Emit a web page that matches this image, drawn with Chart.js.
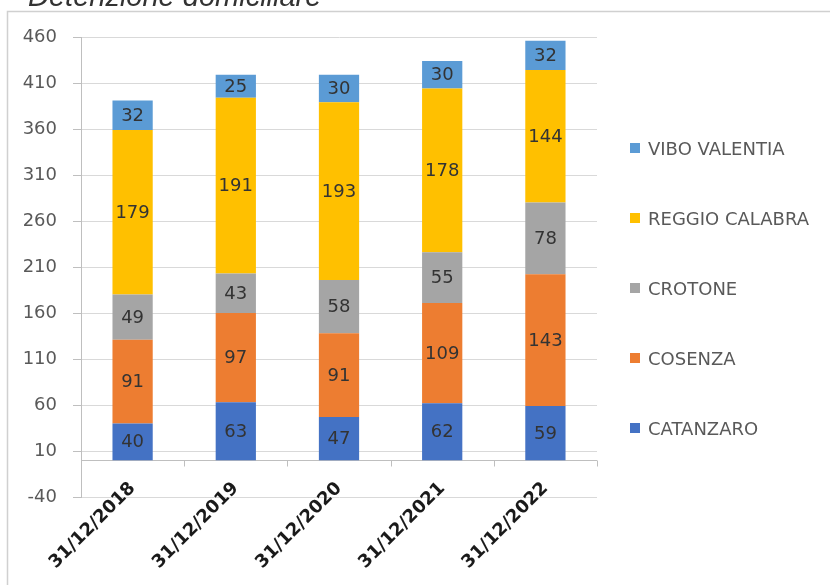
<!DOCTYPE html>
<html>
<head>
<meta charset="utf-8">
<script src="https://cdn.jsdelivr.net/npm/chart.js@4"></script>
<style>
  body { margin: 0; background: #fff; }
  #wrap { position: relative; width: 830px; height: 585px; overflow: hidden; }
  #legend { position: absolute; left: 630px; top: 113px; margin: 0; padding: 0; list-style: none;
            font-family: "DejaVu Sans", sans-serif; font-size: 18px; color: #595959; }
  #legend li { height: 70px; display: flex; align-items: center; white-space: nowrap; }
  #legend span.box { width: 10px; height: 10px; margin-right: 8px; display: inline-block; }
</style>
</head>
<body>
<div id="wrap">
  <canvas id="chartCanvas"></canvas>
  <ul id="legend"></ul>
</div>
<script>
const chartTitle = 'Detenzione domiciliare';
const categories = ['31/12/2018', '31/12/2019', '31/12/2020', '31/12/2021', '31/12/2022'];
const provinces = ['CATANZARO', 'COSENZA', 'CROTONE', 'REGGIO CALABRA', 'VIBO VALENTIA'];
const catanzaro = [40, 63, 47, 62, 59];
const cosenza = [91, 97, 91, 109, 143];
const crotone = [49, 43, 58, 55, 78];
const reggio = [179, 191, 193, 178, 144];
const vibo = [32, 25, 30, 30, 32];
const seriesValues = [catanzaro, cosenza, crotone, reggio, vibo];
const colors = ['#4472C4', '#ED7D31', '#A5A5A5', '#FFC000', '#5B9BD5'];
const yMin = -40;
const yMax = 460;
const yStep = 50;

const fontFamily = '"DejaVu Sans", sans-serif';

// frame + cut-off title
const framePlugin = {
  id: 'frame',
  beforeDraw(chart) {
    const ctx = chart.ctx;
    ctx.save();
    ctx.strokeStyle = '#d0d0d0';
    ctx.lineWidth = 1.5;
    ctx.strokeRect(7.5, 11.5, chart.width + 20, chart.height + 20);
    ctx.fillStyle = '#333';
    ctx.font = 'italic 29px "Liberation Sans", Arial, sans-serif';
    ctx.textBaseline = 'alphabetic';
    ctx.fillText(chartTitle, 28, 6);
    ctx.restore();
  }
};

// horizontal category axis crossing at 0, with rotated labels under it
const zeroAxisPlugin = {
  id: 'zeroAxis',
  beforeDatasetsDraw(chart) {
    const {ctx, chartArea, scales} = chart;
    const y0 = Math.round(scales.y.getPixelForValue(0)) + 0.5;
    ctx.save();
    ctx.strokeStyle = '#bfbfbf';
    ctx.lineWidth = 1;
    ctx.beginPath();
    ctx.moveTo(chartArea.left, y0);
    ctx.lineTo(chartArea.right, y0);
    for (let i = 0; i <= categories.length; i++) {
      const x = Math.round(scales.x.getPixelForValue(i - 0.5)) + 0.5;
      ctx.moveTo(x, y0);
      ctx.lineTo(x, y0 + 6);
    }
    ctx.stroke();

    ctx.fillStyle = '#1a1a1a';
    ctx.font = 'bold 18px ' + fontFamily;
    ctx.textAlign = 'right';
    ctx.textBaseline = 'middle';
    chart.data.labels.forEach((lab, i) => {
      const x = scales.x.getPixelForTick(i);
      ctx.save();
      ctx.translate(x, y0 + 25);
      ctx.rotate(-Math.PI / 4);
      ctx.fillText(lab, 0, 0);
      ctx.restore();
    });
    ctx.restore();
  }
};

// value labels in the middle of each segment
const valueLabelPlugin = {
  id: 'valueLabels',
  afterDatasetsDraw(chart) {
    const ctx = chart.ctx;
    ctx.save();
    ctx.font = '18px ' + fontFamily;
    ctx.fillStyle = '#333';
    ctx.textAlign = 'center';
    ctx.textBaseline = 'middle';
    chart.data.datasets.forEach((ds, di) => {
      chart.getDatasetMeta(di).data.forEach((bar, i) => {
        const p = bar.getCenterPoint();
        ctx.fillText(String(ds.data[i]), p.x, p.y + 1);
      });
    });
    ctx.restore();
  }
};

const htmlLegendPlugin = {
  id: 'htmlLegend',
  afterUpdate(chart) {
    const ul = document.getElementById('legend');
    ul.innerHTML = '';
    chart.data.datasets.slice().reverse().forEach(ds => {
      const li = document.createElement('li');
      const box = document.createElement('span');
      box.className = 'box';
      box.style.background = ds.backgroundColor;
      li.appendChild(box);
      li.appendChild(document.createTextNode(ds.label));
      ul.appendChild(li);
    });
  }
};

const data = {
  labels: categories,
  datasets: provinces.map((name, i) => ({
    label: name,
    data: seriesValues[i],
    backgroundColor: colors[i],
    borderWidth: 0,
    barPercentage: 0.39,
    categoryPercentage: 1,
  })),
};

const myChart = new Chart(document.getElementById('chartCanvas'), {
  type: 'bar',
  data: data,
  options: {
    responsive: true,
    maintainAspectRatio: false,
    animation: false,
    layout: { padding: { top: 37, right: 233, left: 0, bottom: 0 } },
    plugins: {
      legend: { display: false },
      tooltip: { enabled: false },
    },
    scales: {
      x: {
        stacked: true,
        grid: { display: false },
        border: { display: false },
        ticks: { display: false },
        afterFit(scale) { scale.height = 88; },
      },
      y: {
        stacked: true,
        min: yMin,
        max: yMax,
        ticks: {
          stepSize: yStep,
          padding: 16,
          color: '#595959',
          font: { family: fontFamily, size: 18 },
        },
        grid: { color: '#d9d9d9', tickLength: 8, tickColor: '#bfbfbf' },
        border: { display: true, color: '#bfbfbf' },
        afterFit(scale) { scale.width = 81; },
      },
    },
  },
  plugins: [framePlugin, zeroAxisPlugin, valueLabelPlugin, htmlLegendPlugin],
});
</script>
</body>
</html>
